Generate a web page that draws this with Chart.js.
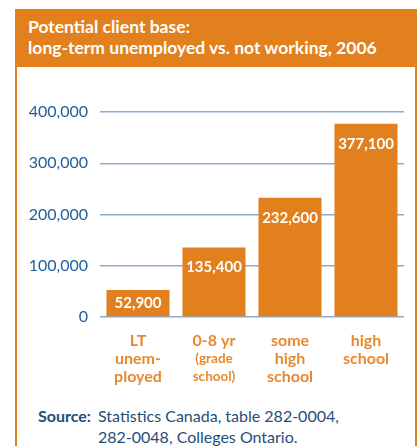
<!DOCTYPE html>
<html>
<head>
<meta charset="utf-8">
<script src="https://cdn.jsdelivr.net/npm/chart.js@4"></script>
<style>
  body { margin: 0; background: #fff; width: 417px; height: 446px; overflow: hidden; font-family: Lato, sans-serif; }
  #box { position: absolute; left: 15px; top: 9px; width: 398px; height: 460px; border-left: 2px solid #e2801e; border-right: 2px solid #e2801e; }
  #header { position: absolute; left: 15px; top: 9px; width: 402px; height: 58px; background: #e2801e; }
  #header div { position: absolute; left: 13px; color: #fff; font-weight: bold; font-size: 17.5px; white-space: nowrap; }
  #chartWrap { position: absolute; left: 17px; top: 67px; width: 397px; height: 330px; }
  #source { position: absolute; left: 38px; top: 405px; color: #1f4e79; font-size: 16px; line-height: 21px; }
  #source b { display: inline-block; width: 60px; }
</style>
</head>
<body>
<div id="box"></div>
<div id="header">
  <div style="top:7px">Potential client base:</div>
  <div style="top:28px">long-term unemployed vs. not working, 2006</div>
</div>
<div id="chartWrap"><canvas id="grafico"></canvas></div>
<div id="source"><b>Source:</b>Statistics Canada, table 282-0004,<br><span style="padding-left:60px">282-0048, Colleges Ontario.</span></div>
<script>
var categorias = [
    ['LT', 'unem-', 'ployed'],
    ['0-8 yr', '(grade', 'school)'],
    ['some', 'high', 'school'],
    ['high', 'school']
];
var personas = [52900, 135400, 232600, 377100];
var ticksY = [0, 100000, 200000, 300000, 400000];

var naranja = '#e2801e';
var azul = '#215f9a';

const formato = (v) => v.toLocaleString('en-US');

// etiquetas blancas dentro de cada barra
const etiquetasBarras = {
    id: 'etiquetasBarras',
    afterDatasetsDraw(chart) {
        const ctx = chart.ctx;
        ctx.save();
        ctx.fillStyle = '#fff';
        ctx.font = 'bold 15px Lato';
        ctx.textAlign = 'center';
        ctx.textBaseline = 'middle';
        chart.getDatasetMeta(0).data.forEach((barra, i) => {
            const y = Math.min(barra.y + 20, (barra.y + barra.base) / 2);
            ctx.fillText(formato(personas[i]), barra.x, y);
        });
        ctx.restore();
    }
};

// categorias en varias lineas bajo el eje
const etiquetasX = {
    id: 'etiquetasX',
    afterDraw(chart) {
        const ctx = chart.ctx;
        const escala = chart.scales.x;
        ctx.save();
        ctx.fillStyle = '#e8892e';
        ctx.textAlign = 'center';
        ctx.textBaseline = 'middle';
        categorias.forEach((lineas, i) => {
            const x = escala.getPixelForValue(i);
            lineas.forEach((linea, j) => {
                const chica = linea.startsWith('(') || linea.endsWith(')');
                ctx.font = 'bold ' + (chica ? 13.5 : 16) + 'px Lato';
                ctx.fillText(linea, x, chart.chartArea.bottom + 24 + j * 18);
            });
        });
        ctx.restore();
    }
};

new Chart(document.getElementById('grafico'), {
    type: 'bar',
    data: {
        labels: categorias,
        datasets: [{
            data: personas,
            backgroundColor: naranja,
            categoryPercentage: 1,
            barPercentage: 0.83
        }]
    },
    options: {
        responsive: true,
        maintainAspectRatio: false,
        animation: false,
        layout: { padding: { top: 45, right: 10, bottom: 72, left: 0 } },
        plugins: { legend: { display: false }, tooltip: { enabled: false } },
        scales: {
            x: {
                grid: { display: false },
                border: { display: false },
                ticks: { display: false }
            },
            y: {
                min: 0,
                max: 400000,
                afterFit: (escala) => { escala.width = 83; },
                afterBuildTicks: (escala) => { escala.ticks = ticksY.map(v => ({ value: v })); },
                grid: { color: '#8eaad0', lineWidth: 1.5, drawTicks: false },
                border: { display: false },
                ticks: {
                    color: azul,
                    padding: 12,
                    font: { family: 'Lato', size: 16 },
                    callback: (v) => formato(v)
                }
            }
        }
    },
    plugins: [etiquetasBarras, etiquetasX]
});
</script>
</body>
</html>
